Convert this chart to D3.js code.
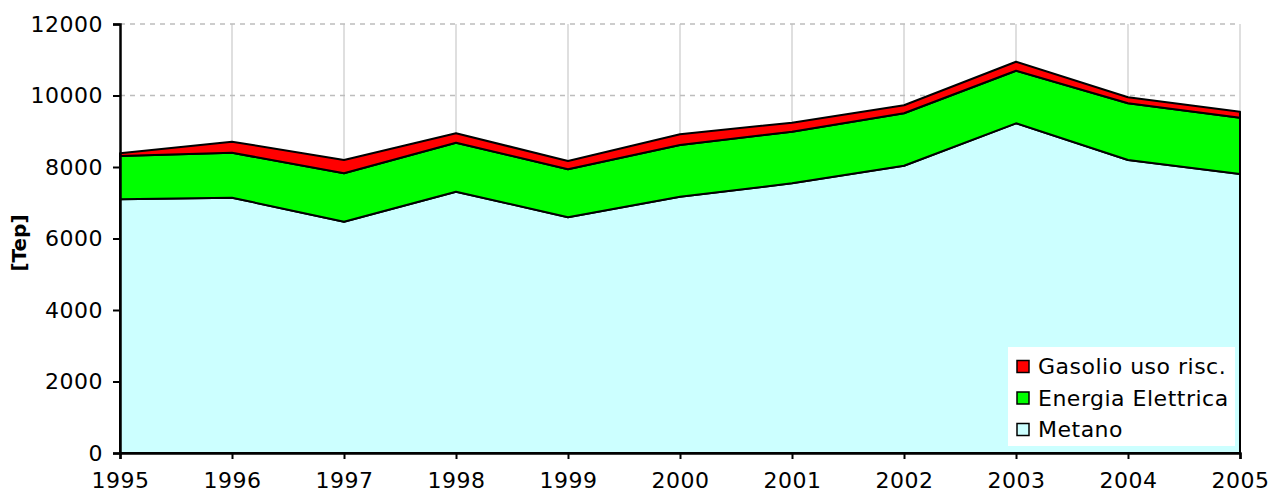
<!DOCTYPE html>
<html>
<head>
<meta charset="utf-8">
<script src="https://cdn.jsdelivr.net/npm/d3@7"></script>
<style>
  body { margin: 0; background: #fff; }
  svg { display: block; font-family: "DejaVu Sans", Verdana, sans-serif; }
</style>
</head>
<body>
<svg id="chart" width="1270" height="493"></svg>
<script>
// values
const years = [1995, 1996, 1997, 1998, 1999, 2000, 2001, 2002, 2003, 2004, 2005];
const metano = [7096, 7141, 6470, 7309, 6593, 7169, 7544, 8036, 9222, 8196, 7804];
const elettrica = [1212, 1259, 1354, 1371, 1343, 1446, 1444, 1466, 1471, 1586, 1575];
const gasolio = [75, 308, 372, 263, 232, 300, 251, 224, 252, 168, 168];
const yTicks = [0, 2000, 4000, 6000, 8000, 10000, 12000];

const series = [
  { key: "metano", label: "Metano", color: "#ccffff" },
  { key: "elettrica", label: "Energia Elettrica", color: "#00ff00" },
  { key: "gasolio", label: "Gasolio uso risc.", color: "#ff0000" }
];

const rows = years.map((yr, i) => ({
  year: yr, metano: metano[i], elettrica: elettrica[i], gasolio: gasolio[i]
}));

const svg = d3.select("#chart");

const x = d3.scaleLinear().domain([1995, 2005]).range([120, 1240]);
const y = d3.scaleLinear().domain([0, 12000]).range([453, 24]);

// grid
svg.append("g").selectAll("line").data(years.slice(1))
  .enter().append("line")
  .attr("x1", d => x(d)).attr("x2", d => x(d))
  .attr("y1", y(12000)).attr("y2", y(0))
  .attr("stroke", "#d4d4d4").attr("stroke-width", 1.5);

svg.append("g").selectAll("line").data(yTicks.slice(1))
  .enter().append("line")
  .attr("x1", x(1995)).attr("x2", x(2005))
  .attr("y1", d => y(d)).attr("y2", d => y(d))
  .attr("stroke", "#bdbdbd").attr("stroke-width", 1.5)
  .attr("stroke-dasharray", "5,5");

// stacked areas
const stack = d3.stack().keys(series.map(s => s.key));
const layers = stack(rows);

const area = d3.area()
  .x(d => x(d.data.year))
  .y0(d => y(d[0]))
  .y1(d => y(d[1]));

svg.append("g").selectAll("path").data(layers)
  .enter().append("path")
  .attr("d", area)
  .attr("fill", (d, i) => series[i].color)
  .attr("stroke", "#000")
  .attr("stroke-width", 2)
  .attr("stroke-linejoin", "round");

// axes
const yAxis = svg.append("g")
  .attr("transform", `translate(${x(1995)},0)`)
  .call(d3.axisLeft(y).tickValues(yTicks).tickFormat(d3.format("d")).tickSize(7).tickPadding(10));
const xAxis = svg.append("g")
  .attr("transform", `translate(0,${y(0)})`)
  .call(d3.axisBottom(x).tickValues(years).tickFormat(d3.format("d")).tickSize(6).tickPadding(13));

[yAxis, xAxis].forEach(g => {
  g.attr("font-size", null).attr("font-family", null);
  g.select(".domain").attr("stroke", "#000").attr("stroke-width", 2.5);
  g.selectAll(".tick line").attr("stroke", "#000").attr("stroke-width", 2);
  g.selectAll(".tick text")
    .attr("fill", "#000")
    .style("font-size", "22px")
    .style("letter-spacing", "0.5px");
});

svg.append("text")
  .attr("transform", `translate(26,243) rotate(-90)`)
  .attr("text-anchor", "middle")
  .style("font-size", "20px")
  .style("font-weight", "bold")
  .text("[Tep]");

// legend
const legend = svg.append("g").attr("transform", "translate(1008,347)");
legend.append("rect")
  .attr("width", 227).attr("height", 99)
  .attr("fill", "#fff");

const legendItems = series.slice().reverse();
const item = legend.selectAll("g.item").data(legendItems)
  .enter().append("g")
  .attr("class", "item")
  .attr("transform", (d, i) => `translate(9,${19.5 + i * 31.5})`);

item.append("rect")
  .attr("x", 0).attr("y", -6)
  .attr("width", 12).attr("height", 12)
  .attr("fill", d => d.color)
  .attr("stroke", "#000").attr("stroke-width", 1.5);

item.append("text")
  .attr("x", 21).attr("y", 0).attr("dy", "0.35em")
  .style("font-size", "22px")
  .style("letter-spacing", "0.5px")
  .text(d => d.label);
</script>
</body>
</html>
